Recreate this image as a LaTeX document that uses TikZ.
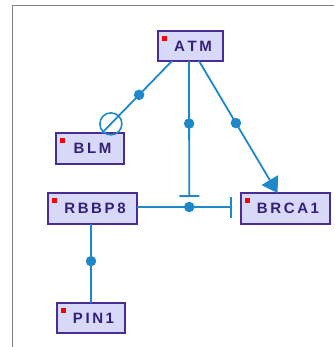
\documentclass[tikz,border=0pt]{standalone}
\usepackage{fontspec}
\setmainfont{Liberation Sans}
\usetikzlibrary{arrows.meta,calc}
\definecolor{boxfill}{HTML}{D8D8F8}
\definecolor{boxline}{HTML}{4A2C96}
\definecolor{boxtext}{HTML}{34207A}
\definecolor{edgeblue}{HTML}{1E88C8}
\definecolor{framegray}{HTML}{808080}
\makeatletter
\newcommand\trk[1]{\def\trk@sep{}\@tfor\trk@c:=#1\do{\trk@sep\trk@c\def\trk@sep{\kern2.6pt}}}
\makeatother
\tikzset{
  gene/.style={draw=boxline, fill=boxfill, line width=1.8pt, text=boxtext,
    inner sep=0pt, outer sep=0pt, font=\bfseries\fontsize{15}{16}\selectfont, anchor=center},
  edge/.style={draw=edgeblue, line width=1.8pt},
  dot/.style={circle, fill=edgeblue, inner sep=0pt, minimum size=10.5pt},
  ring/.style={circle, draw=edgeblue, line width=1.6pt, inner sep=0pt, minimum size=22pt}
}
\newcommand\redmark[1]{\fill[red] ([shift={(4,5)}]#1.north west) rectangle ++(4.5,5);}
\begin{document}
\begin{tikzpicture}[x=1pt,y=-1pt]
\useasboundingbox[fill=white] (0,0) rectangle (334,347);
\draw[framegray, line width=1pt] (12,347) -- (12,6) -- (334,6);
% nodes
\node[gene, minimum width=65pt, minimum height=30pt] (ATM) at (190.5,46) {\hspace*{5pt}\trk{ATM}};
\node[gene, minimum width=68pt, minimum height=31pt] (BLM) at (90,148.5) {\hspace*{5pt}\trk{BLM}};
\node[gene, minimum width=89pt, minimum height=31pt] (RBBP8) at (92.5,208.5) {\hspace*{5pt}\trk{RBBP8}};
\node[gene, minimum width=89pt, minimum height=31pt] (BRCA1) at (285.5,208.5) {\hspace*{5pt}\trk{BRCA1}};
\node[gene, minimum width=68pt, minimum height=30pt] (PIN1) at (91,318) {\hspace*{5pt}\trk{PIN1}};
\redmark{ATM}\redmark{BLM}\redmark{RBBP8}\redmark{BRCA1}\redmark{PIN1}
% edges
\draw[edge, -{Bar[width=21pt,line width=1.8pt]}] (RBBP8.east |- 0,207) -- node[dot, pos=0.55] (hub) {} ([xshift=-9pt]BRCA1.west |- 0,207);
\draw[edge, -{Bar[width=20pt,line width=1.8pt]}] ([xshift=-1.5pt]ATM.south) -- node[dot, pos=0.46] {} ([yshift=10pt]hub.center);
\draw[edge] ([xshift=-18.5pt]ATM.south) -- node[dot, pos=0.47] {} node[ring, pos=0.873] {} ([xshift=12pt]BLM.north);
\draw[edge, -{Triangle[length=15pt,width=19pt]}] ([xshift=8.5pt]ATM.south) -- node[dot, pos=0.47] {} ([xshift=-8pt]BRCA1.north);
\draw[edge] (PIN1.north |- RBBP8.south) -- node[dot, pos=0.47] {} (PIN1.north);
\end{tikzpicture}
\end{document}
